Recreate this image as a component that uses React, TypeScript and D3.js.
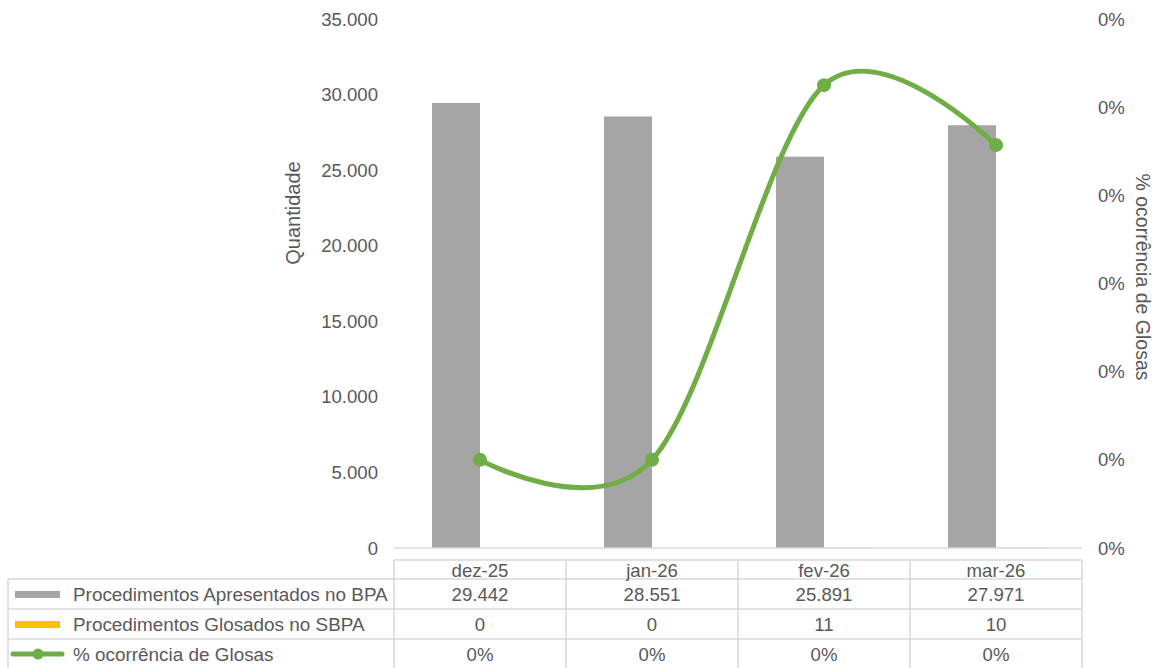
import React from "react";
import * as d3 from "d3";

const categories = ["dez-25", "jan-26", "fev-26", "mar-26"];
const apresentados = [29442, 28551, 25891, 27971];
const glosados = [0, 0, 11, 10];
const ocorrencia = [0.0001, 0.0001, 0.000525, 0.000457];
const leftTicks = [0, 5000, 10000, 15000, 20000, 25000, 30000, 35000];
const rightTicks = [0, 0.0001, 0.0002, 0.0003, 0.0004, 0.0005, 0.0006];
const seriesNames = [
  "Procedimentos Apresentados no BPA",
  "Procedimentos Glosados no SBPA",
  "% ocorrência de Glosas",
];

const W = 1155;
const H = 668;
const FONT = "'Liberation Sans', Arial, sans-serif";
const FS = 18.6;
const TXT = "#595959";
const GRID = "#d9d9d9";
const GRAY = "#A5A5A5";
const YELLOW = "#FFC000";
const GREEN = "#70AD47";

export default function App() {
  const x0 = 394, x1 = 1082, yTop = 19, yBot = 548;
  const x = d3.scaleBand<string>().domain(categories).range([x0, x1]).padding(0);
  const yL = d3.scaleLinear().domain([0, 35000]).range([yBot, yTop]);
  const yR = d3.scaleLinear().domain([0, 0.0006]).range([yBot, yTop]);
  const fmtNum = (v: number) => d3.format(",.0f")(v).replace(/,/g, ".");
  const fmtPct = d3.format(".0%");
  const groupW = 96;
  const sub = d3.scaleBand<number>().domain([0, 1]).range([-groupW / 2, groupW / 2]).padding(0);
  const cx = (c: string) => (x(c) as number) + x.bandwidth() / 2;

  const line = d3
    .line<number>()
    .x((_, i) => cx(categories[i]))
    .y((d) => yR(d))
    .curve(d3.curveCatmullRom.alpha(0));

  const headerTop = 560, rowTops = [579, 609, 639], rowH = 30, tableLeft = 8;
  const rowBottom = rowTops[2] + rowH;

  return (
    <svg width={W} height={H} style={{ position: "absolute", left: 0, top: 0 }} fontFamily={FONT}>
      <rect width={W} height={H} fill="#fff" />
      {leftTicks.map((t) => (
        <text key={"l" + t} x={378} y={yL(t)} dy="0.35em" textAnchor="end" fontSize={FS} fill={TXT}>
          {fmtNum(t)}
        </text>
      ))}
      {rightTicks.map((t, i) => (
        <text key={"r" + i} x={1098} y={yR(t)} dy="0.35em" textAnchor="start" fontSize={FS} fill={TXT}>
          {fmtPct(t)}
        </text>
      ))}
      <text transform={`translate(300,213) rotate(-90)`} textAnchor="middle" fontSize={20} fill={TXT}>
        Quantidade
      </text>
      <text transform={`translate(1136,277) rotate(90)`} textAnchor="middle" fontSize={19.5} fill={TXT}>
        % ocorrência de Glosas
      </text>
      {categories.map((c, i) => (
        <g key={c}>
          <rect x={cx(c) + (sub(0) as number)} width={sub.bandwidth()} y={yL(apresentados[i])} height={yBot - yL(apresentados[i])} fill={GRAY} />
          <rect x={cx(c) + (sub(1) as number)} width={sub.bandwidth()} y={yL(glosados[i])} height={yBot - yL(glosados[i])} fill={YELLOW} />
        </g>
      ))}
      <line x1={x0} x2={x1} y1={yBot} y2={yBot} stroke={GRID} strokeWidth={1.5} />
      <path d={line(ocorrencia) || ""} fill="none" stroke={GREEN} strokeWidth={5} strokeLinecap="round" />
      {ocorrencia.map((v, i) => (
        <circle key={i} cx={cx(categories[i])} cy={yR(v)} r={7} fill={GREEN} />
      ))}
      <g stroke={GRID} strokeWidth={1.5} fill="none">
        <line x1={x0} x2={x1} y1={headerTop} y2={headerTop} />
        {rowTops.map((t) => (
          <line key={t} x1={tableLeft} x2={x1} y1={t} y2={t} />
        ))}
        <line x1={tableLeft} x2={x1} y1={rowBottom} y2={rowBottom} />
        <line x1={tableLeft} x2={tableLeft} y1={rowTops[0]} y2={rowBottom} />
        {categories.map((c) => (
          <line key={c} x1={x(c) as number} x2={x(c) as number} y1={headerTop} y2={rowBottom} />
        ))}
        <line x1={x1} x2={x1} y1={headerTop} y2={rowBottom} />
      </g>
      {categories.map((c) => (
        <text key={"h" + c} x={cx(c)} y={(headerTop + rowTops[0]) / 2 + 1} dy="0.35em" textAnchor="middle" fontSize={FS} fill={TXT}>
          {c}
        </text>
      ))}
      {[apresentados, glosados].map((arr, r) =>
        categories.map((c, i) => (
          <text key={r + c} x={cx(c)} y={rowTops[r] + rowH / 2} dy="0.35em" textAnchor="middle" fontSize={FS} fill={TXT}>
            {fmtNum(arr[i])}
          </text>
        ))
      )}
      {categories.map((c, i) => (
        <text key={"p" + c} x={cx(c)} y={rowTops[2] + rowH / 2} dy="0.35em" textAnchor="middle" fontSize={FS} fill={TXT}>
          {fmtPct(ocorrencia[i])}
        </text>
      ))}
      <rect x={15} y={rowTops[0] + rowH / 2 - 3} width={45} height={7} fill={GRAY} />
      <rect x={15} y={rowTops[1] + rowH / 2 - 3} width={45} height={7} fill={YELLOW} />
      <line x1={13} x2={62} y1={rowTops[2] + rowH / 2} y2={rowTops[2] + rowH / 2} stroke={GREEN} strokeWidth={5} strokeLinecap="round" />
      <circle cx={38} cy={rowTops[2] + rowH / 2} r={5.5} fill={GREEN} />
      {seriesNames.map((s, r) => (
        <text key={s} x={73} y={rowTops[r] + rowH / 2} dy="0.35em" fontSize={18.9} fill={TXT}>
          {s}
        </text>
      ))}
    </svg>
  );
}
